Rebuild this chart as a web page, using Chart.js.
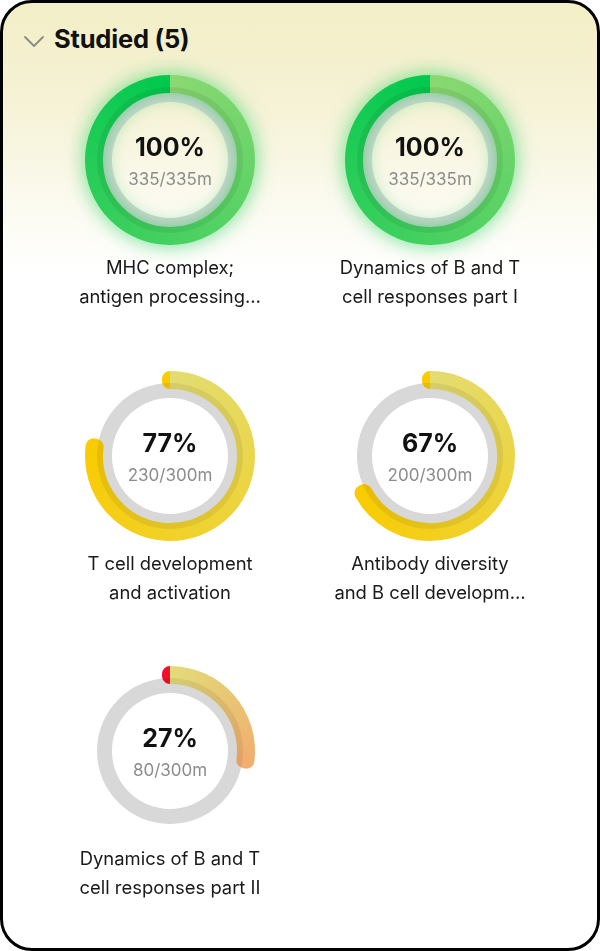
<!DOCTYPE html>
<html>
<head>
<meta charset="utf-8">
<script src="https://cdn.jsdelivr.net/npm/chart.js@4.4.1/dist/chart.umd.min.js"></script>
<style>
    html, body { margin: 0; padding: 0; background: #fff; }
    body { width: 600px; height: 951px; position: relative; overflow: hidden; font-family: Inter, "Noto Sans", sans-serif; }
    .card {
        position: absolute; left: 0; top: 0; width: 600px; height: 951px;
        box-sizing: border-box; border: 3px solid #000; border-radius: 32px;
        background: linear-gradient(180deg, #f2eec6 0px, #f6f3d8 110px, #fcfbf2 210px, #ffffff 270px);
        overflow: hidden;
    }
    .header { position: absolute; left: 51px; top: 20px; font-size: 25.5px; font-weight: 700; color: #111; letter-spacing: -0.2px; }
    .chevron { position: absolute; left: 20px; top: 31px; }
    .ring { position: absolute; width: 240px; height: 240px; }
    .ring.shade { mix-blend-mode: multiply; }
    .pct { position: absolute; width: 200px; text-align: center; font-size: 25px; font-weight: 700; color: #111; }
    .mins { position: absolute; width: 200px; text-align: center; font-size: 17px; color: #8c8c8c; }
    .title { position: absolute; width: 260px; text-align: center; font-size: 18.4px; line-height: 30px; color: #1a1a1a; }
</style>
</head>
<body>
<div class="card" id="card">
    <svg class="chevron" width="22" height="14" viewBox="0 0 22 14">
        <polyline points="2,3 11,12 20,3" fill="none" stroke="#8a8a8a" stroke-width="1.8" stroke-linecap="round" stroke-linejoin="round"/>
    </svg>
    <div class="header">Studied (5)</div>
</div>
<script>
// lesson data
const titleLines = [
    ['MHC complex;', 'antigen processing…'],
    ['Dynamics of B and T', 'cell responses part I'],
    ['T cell development', 'and activation'],
    ['Antibody diversity', 'and B cell developm…'],
    ['Dynamics of B and T', 'cell responses part II']
];
const percentDone = [100, 100, 77, 67, 27];
const minutesDone = [335, 335, 230, 200, 80];
const minutesTotal = [335, 335, 300, 300, 300];

document.addEventListener("DOMContentLoaded", function() {
    const card = document.getElementById('card');
    const border = 3; // children sit inside the card border

    // colour scheme picked by how far the lesson got
    function paletteFor(p) {
        if (p >= 100) return { start: '#8cd872', end: '#00c94e', cap: '#00c94e', glow: 'rgba(20,205,80,0.6)' };
        if (p >= 50) return { start: '#e3dc72', end: '#f9cb00', cap: '#f9cb00', glow: null };
        return { start: '#e2dc7a', end: '#f1ae6e', cap: '#f2102e', glow: null };
    }

    function conic(chart, p, pal) {
        const area = chart.chartArea;
        if (!area) return pal.end;
        const cx = (area.left + area.right) / 2;
        const cy = (area.top + area.bottom) / 2;
        const g = chart.ctx.createConicGradient(-Math.PI / 2, cx, cy);
        const f = p / 100;
        g.addColorStop(0, pal.start);
        g.addColorStop(Math.min(f, 0.999), pal.end);
        if (f < 0.95) {
            g.addColorStop(Math.min(f + 0.04, 0.96), pal.end);
            g.addColorStop(0.975, pal.cap);
        }
        g.addColorStop(1, pal.cap);
        return g;
    }

    // soft coloured glow under the finished rings
    const glowPlugin = {
        id: 'glow',
        beforeDatasetsDraw(chart, args, opts) {
            chart.ctx.save();
            if (opts.color) {
                chart.ctx.shadowColor = opts.color;
                chart.ctx.shadowBlur = 20;
            }
        },
        afterDatasetsDraw(chart) {
            chart.ctx.restore();
        }
    };

    function addCanvas(cls, cx, cy) {
        const c = document.createElement('canvas');
        c.width = 240; c.height = 240;
        c.className = 'ring ' + cls;
        c.style.left = (cx - 120 - border) + 'px';
        c.style.top = (cy - 120 - border) + 'px';
        card.appendChild(c);
        return c;
    }

    function addText(cls, text, cx, top, w) {
        const d = document.createElement('div');
        d.className = cls;
        d.style.left = (cx - w / 2 - border) + 'px';
        d.style.top = (top - border) + 'px';
        d.innerText = text;
        card.appendChild(d);
        return d;
    }

    const baseOptions = {
        responsive: false,
        animation: false,
        events: [],
        layout: { padding: 0 },
        plugins: { legend: { display: false }, tooltip: { enabled: false } }
    };

    function trackChart(canvas, colour) {
        return new Chart(canvas.getContext('2d'), {
            type: 'doughnut',
            data: { datasets: [{ data: [100], backgroundColor: colour, borderWidth: 0 }] },
            options: Object.assign({}, baseOptions, { radius: 73, cutout: '79.5%' })
        });
    }

    percentDone.forEach((p, i) => {
        const cx = 170 + (i % 2) * 260;
        const cy = 160 + Math.floor(i / 2) * 295.5;
        const pal = paletteFor(p);

        // light grey track underneath
        trackChart(addCanvas('track', cx, cy), '#e8e8e8');

        // progress arc: thin ring stroked wide with round joins gives round caps
        const progressCanvas = addCanvas('progress', cx, cy);
        new Chart(progressCanvas.getContext('2d'), {
            type: 'doughnut',
            data: {
                datasets: [{
                    data: [p, 100 - p],
                    backgroundColor: ctx => ctx.dataIndex === 0 ? conic(ctx.chart, p, pal) : 'rgba(0,0,0,0)',
                    borderColor: ctx => ctx.dataIndex === 0 ? conic(ctx.chart, p, pal) : 'rgba(0,0,0,0)',
                    borderWidth: 16,
                    borderJoinStyle: 'round',
                    borderAlign: 'center'
                }]
            },
            options: Object.assign({}, baseOptions, {
                radius: 77,
                cutout: '97.4%',
                plugins: Object.assign({}, baseOptions.plugins, { glow: { color: pal.glow } })
            }),
            plugins: [glowPlugin]
        });

        // same track multiplied on top, so the overlap reads a bit darker
        trackChart(addCanvas('shade', cx, cy), '#eeeeee');

        addText('pct', p + '%', cx, cy - 28, 200);
        addText('mins', minutesDone[i] + '/' + minutesTotal[i] + 'm', cx, cy + 9, 200);
        addText('title', titleLines[i][0], cx, cy + 92, 260);
        addText('title', titleLines[i][1], cx, cy + 121, 260);
    });
});
</script>
</body>
</html>
